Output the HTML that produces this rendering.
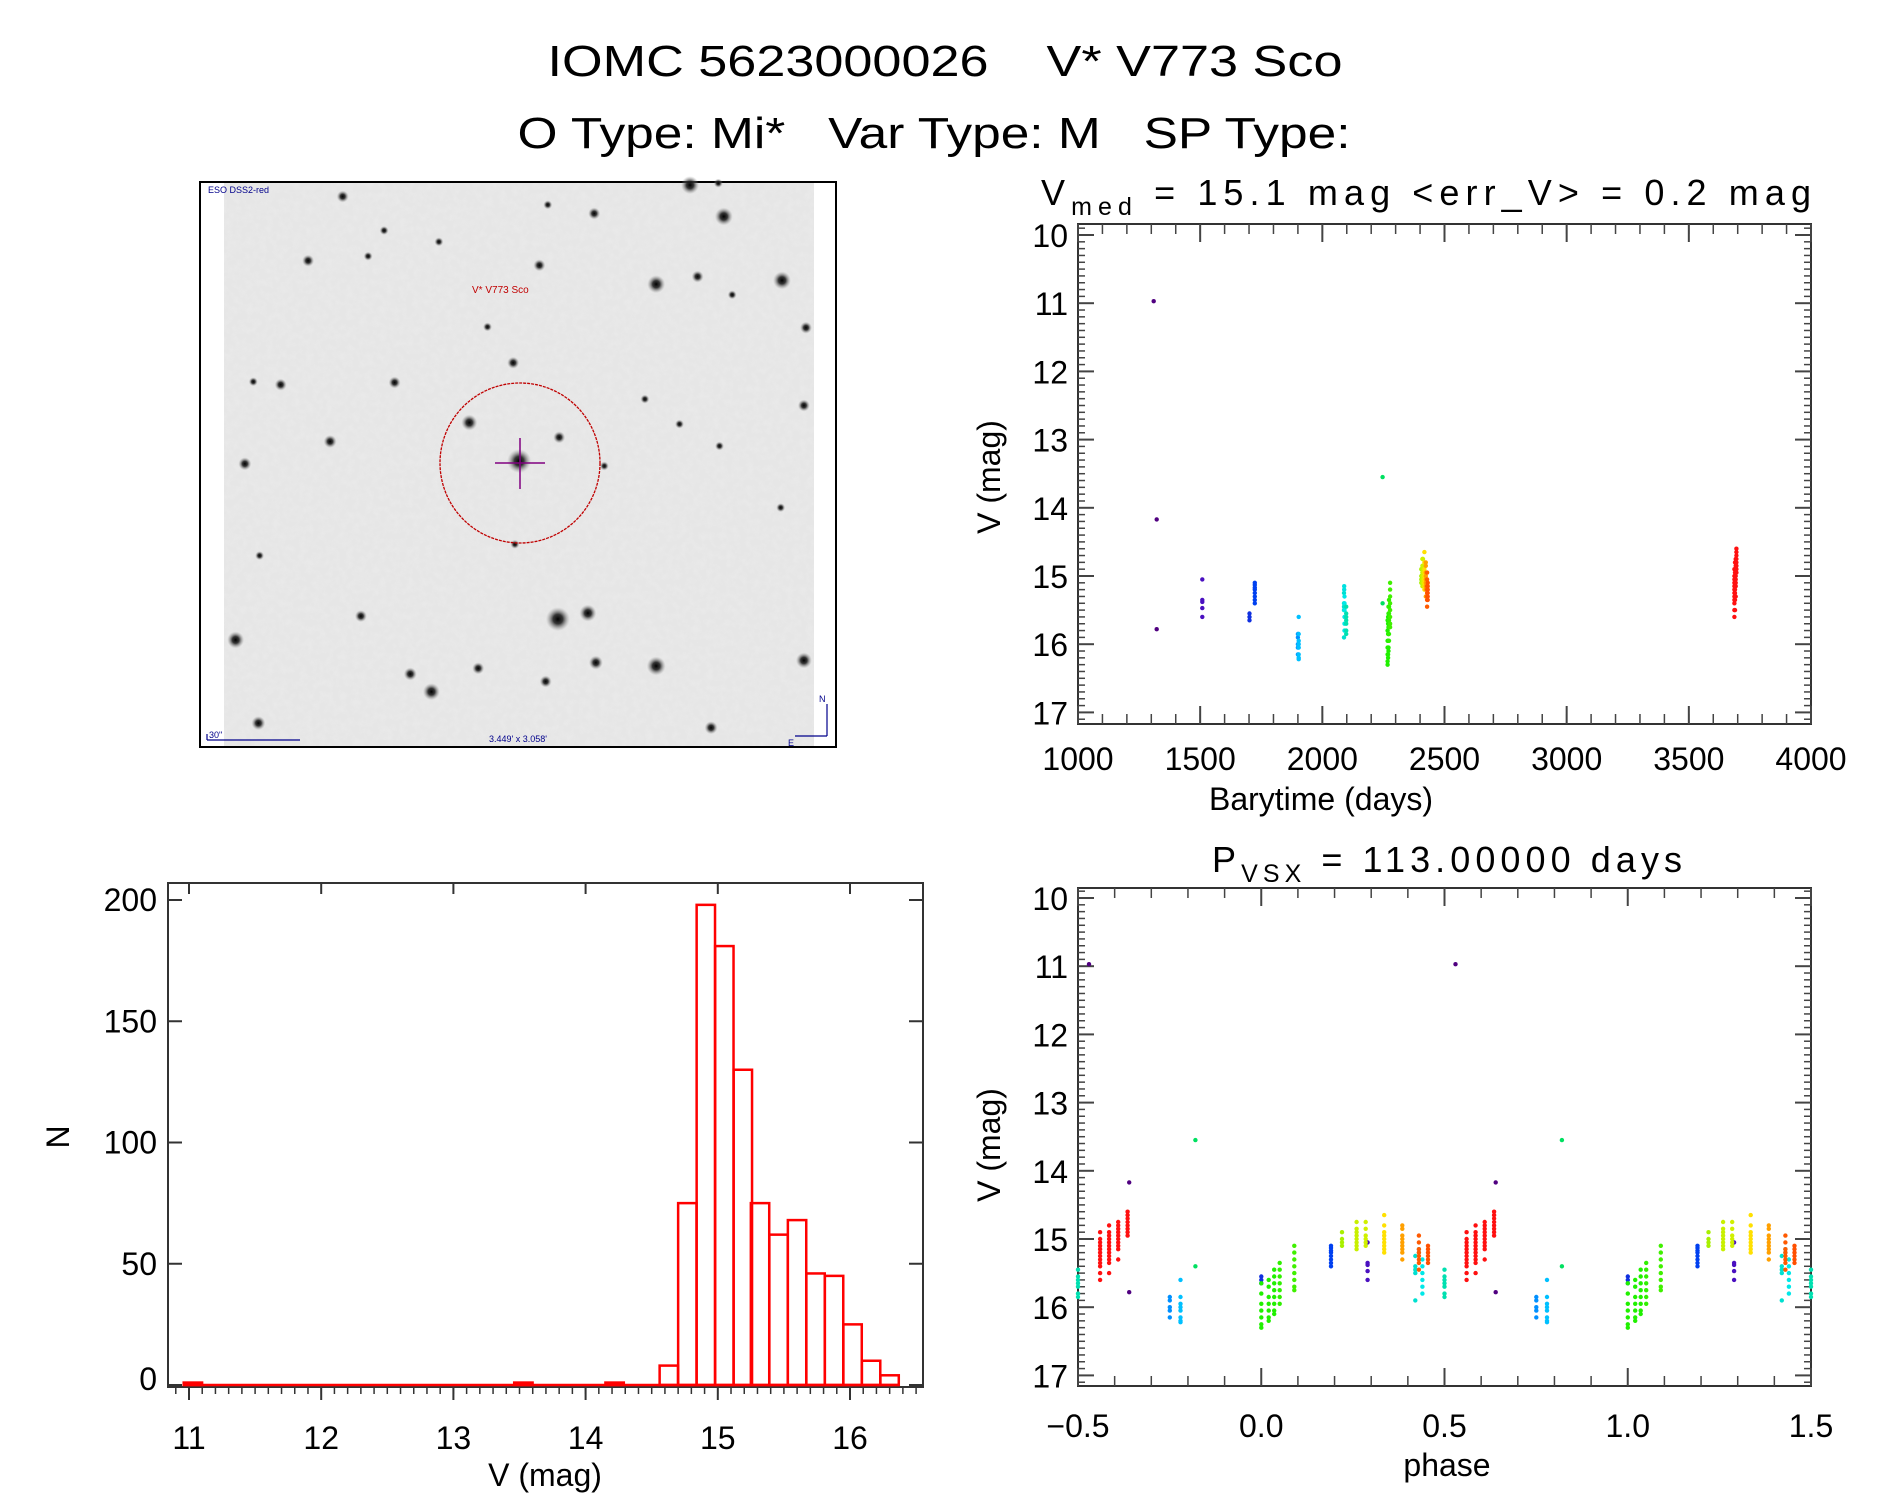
<!DOCTYPE html>
<html><head><meta charset="utf-8"><title>IOMC 5623000026 V* V773 Sco</title>
<style>
html,body{margin:0;padding:0;background:#fff;}
svg{display:block;font-family:"Liberation Sans",sans-serif;}
text{fill:#000;white-space:pre;}
</style></head>
<body>
<svg id="fig" width="1889" height="1494" viewBox="0 0 1889 1494" xmlns="http://www.w3.org/2000/svg">
<defs>
<filter id="noise" x="0" y="0" width="100%" height="100%">
<feTurbulence type="fractalNoise" baseFrequency="0.15" numOctaves="2" seed="3"/>
<feColorMatrix type="matrix" values="0 0 0 0 0.82  0 0 0 0 0.82  0 0 0 0 0.82  0 0 0 -2.2 1.45"/>
</filter>
<radialGradient id="star"><stop offset="0" stop-color="#000"/><stop offset="0.4" stop-color="#222" stop-opacity="0.9"/><stop offset="1" stop-color="#999" stop-opacity="0"/></radialGradient>
</defs>
<text x="945" y="76" font-size="44" text-anchor="middle" textLength="795" lengthAdjust="spacingAndGlyphs">IOMC 5623000026    V* V773 Sco</text>
<text x="934" y="148" font-size="44" text-anchor="middle" textLength="833" lengthAdjust="spacingAndGlyphs">O Type: Mi*   Var Type: M   SP Type:</text>

<g id="image-panel">
<rect x="200" y="182" width="636" height="565" fill="#fff" stroke="#000" stroke-width="2"/>
<rect x="224" y="183" width="590" height="563" fill="#e6e6e6"/>
<rect x="224" y="183" width="590" height="563" fill="#fff" filter="url(#noise)" opacity="0.8"/>
<g id="stars"></g>
<ellipse cx="520" cy="463" rx="80" ry="80" fill="none" stroke="#c00000" stroke-width="1.3" stroke-dasharray="3 1"/>
<line x1="495" y1="463" x2="545" y2="463" stroke="#800080" stroke-width="1.5"/>
<line x1="520" y1="438" x2="520" y2="489" stroke="#800080" stroke-width="1.5"/>
<text x="208" y="193" font-size="9" style="fill:#00008b">ESO DSS2-red</text>
<text x="472" y="293" font-size="10" style="fill:#c00000">V* V773 Sco</text>
<text x="209" y="738" font-size="9" style="fill:#00008b">30"</text>
<line x1="207" y1="740" x2="300" y2="740" stroke="#00008b" stroke-width="1.2"/>
<line x1="207" y1="734" x2="207" y2="740" stroke="#00008b" stroke-width="1.2"/>
<text x="489" y="742" font-size="9" style="fill:#00008b">3.449' x 3.058'</text>
<line x1="827" y1="704" x2="827" y2="736" stroke="#00008b" stroke-width="1.2"/>
<line x1="827" y1="736" x2="795" y2="736" stroke="#00008b" stroke-width="1.2"/>
<text x="819" y="702" font-size="9" style="fill:#00008b">N</text>
<text x="788" y="746" font-size="9" style="fill:#00008b">E</text>
</g>

<g id="hist"></g>
<g id="lc"></g>
<g id="ph"></g>
</svg>
<script>
// ---------- histogram data ----------
const binLefts = [10.96, 13.46, 14.15, 14.56, 14.70, 14.84, 14.98, 15.12, 15.25, 15.39, 15.53, 15.67, 15.81, 15.95, 16.09, 16.23];
const binCounts = [1, 1, 1, 8, 75, 198, 181, 130, 75, 62, 68, 46, 45, 25, 10, 4];
const binWidth = 0.139;
const histXTicks = [11, 12, 13, 14, 15, 16];
const histYTicks = [0, 50, 100, 150, 200];

// ---------- light curve data (time, magnitudes, colour per observation group) ----------
const obsTimes = [1309.9, 1322.3, 1508.8, 1702.0, 1723.5, 1899.8, 1903.1, 2088.5, 2089.6, 2090.7, 2097.5, 2246.7, 2267.0, 2269.3, 2271.0, 2272.7, 2277.2, 2404.9, 2409.4, 2412.2, 2417.9, 2423.5, 2428.6, 2431.4, 3686.3, 3689.1, 3691.9, 3694.8];
const obsMags = [
 [10.97],
 [14.17, 15.78],
 [15.05, 15.35, 15.38, 15.47, 15.6],
 [15.55, 15.6, 15.65],
 [15.1, 15.13, 15.17, 15.2, 15.25, 15.3, 15.35, 15.4],
 [15.85, 15.9, 16.0, 16.05, 16.15],
 [15.6, 15.85, 15.95, 16.0, 16.05, 16.15, 16.2, 16.22],
 [15.25, 15.4, 15.45, 15.5, 15.9],
 [15.15, 15.2],
 [15.3, 15.4, 15.5, 15.6, 15.7, 15.8],
 [15.45, 15.55, 15.6, 15.65, 15.7, 15.8, 15.85],
 [13.55, 15.4],
 [15.65, 15.8, 15.95, 16.05, 16.15, 16.25, 16.3],
 [15.6, 15.7, 15.85, 15.95, 16.05, 16.15, 16.2],
 [15.45, 15.55, 15.65, 15.75, 15.85, 15.95, 16.05, 16.1],
 [15.35, 15.45, 15.55, 15.65, 15.75, 15.85, 15.95],
 [15.1, 15.2, 15.3, 15.4, 15.5, 15.6, 15.7, 15.75],
 [14.9, 15.0, 15.05, 15.1],
 [14.75, 14.85, 14.9, 14.95, 15.0, 15.05, 15.1, 15.15],
 [14.75, 14.85, 14.95, 15.0, 15.05, 15.1],
 [14.65, 14.8, 14.9, 14.95, 15.0, 15.05, 15.1, 15.15, 15.2],
 [14.8, 14.85, 14.95, 15.0, 15.05, 15.1, 15.15, 15.2, 15.3],
 [14.95, 15.05, 15.15, 15.2, 15.25, 15.3, 15.35, 15.45],
 [15.1, 15.15, 15.2, 15.25, 15.3, 15.35],
 [14.9, 15.0, 15.05, 15.1, 15.15, 15.2, 15.25, 15.3, 15.35, 15.4, 15.5, 15.6],
 [14.8, 14.9, 14.95, 15.0, 15.05, 15.1, 15.15, 15.2, 15.25, 15.3, 15.35, 15.5],
 [14.75, 14.8, 14.85, 14.9, 14.95, 15.0, 15.05, 15.1, 15.15, 15.3],
 [14.6, 14.65, 14.7, 14.75, 14.8, 14.85, 14.9, 14.95]
];
const obsColors = ['#500080','#500080','#4a10c0','#1030e0','#0040f0','#0090ff','#00c0ff','#00e0d0','#00e0e0','#00e8e8','#00e0b0','#00e060','#20f000','#20f000','#20f000','#30f000','#40f000','#a8f000','#c8f000','#d0f000','#ffe000','#ffa000','#ff5a00','#ff5000','#ff1010','#ff1010','#ff1010','#ff1010'];
const period = 113.0;
const epoch = 1250.0;
const lcXTicks = [1000, 1500, 2000, 2500, 3000, 3500, 4000];
const magTicks = [10, 11, 12, 13, 14, 15, 16, 17];
const phXTicks = [-0.5, 0.0, 0.5, 1.0, 1.5];
const phXTickLabels = ['\u22120.5', '0.0', '0.5', '1.0', '1.5'];

const NS = 'http://www.w3.org/2000/svg';
function mk(parent, tag, attrs) {
  const e = document.createElementNS(NS, tag);
  for (const k in attrs) e.setAttribute(k, attrs[k]);
  parent.appendChild(e);
  return e;
}
function txt(parent, x, y, s, size, anchor) {
  const t = mk(parent, 'text', {x: x, y: y, 'font-size': size, 'text-anchor': anchor || 'middle'});
  t.textContent = s;
  return t;
}

// ---------- stars in image ----------
const starG = document.getElementById('stars');
const starList = [[362,70,6],[1185,40,9],[1252,35,4.5],[1265,123,9],[958,115,6],[848,92,4.5],[460,160,4.5],[590,190,4.5],[280,240,6],[422,228,4.5],[828,252,6],[1105,302,9],[1203,282,6],[1403,292,9],[1285,330,4.5],[1460,417,6],[705,415,4.5],[766,510,6],[485,562,6],[215,568,6],[150,560,4.5],[1078,606,4.5],[1455,623,6],[662,668,8],[875,707,6],[332,718,6.5],[1160,672,4.5],[130,777,6.5],[780,770,12],[982,783,4.5],[1255,730,4.5],[1400,893,4.5],[405,1180,6],[872,1188,12],[943,1172,8.5],[108,1243,8.5],[962,1303,7],[1105,1312,9.5],[1455,1297,8],[522,1333,6.5],[683,1318,6],[572,1380,8.5],[843,1353,6],[162,1463,7],[1235,1475,6.5],[770,990,4.5],[165,1020,4.5]];
starList.forEach(s => {
  const c = mk(starG, 'circle', {cx: (s[0]/2.37+190).toFixed(1), cy: (s[1]/2.645+170).toFixed(1), r: s[2], fill: 'url(#star)'});
  
  
});

function frame(g, x0, y0, x1, y1, name) {
  const r = mk(g, 'rect', {x: x0, y: y0, width: x1 - x0, height: y1 - y0, fill: 'none', stroke: '#333', 'stroke-width': 2});
  
  
}

// ---------- histogram ----------
(function(){
  const g = document.getElementById('hist');
  const X0 = 168, X1 = 923, Y0 = 883, Y1 = 1387;
  const xs = v => 189 + (v - 11) * 132.2;
  const ys = n => 1385 - n * 2.425;
  frame(g, X0, Y0, X1, Y1, 'histogram-frame');
  for (let v = 10.9; v <= 16.55; v += 0.1) {
    const x = xs(v);
    if (x < X0 || x > X1) continue;
    const l = mk(g, 'line', {x1: x, y1: Y1, x2: x, y2: Y1 + 7, stroke: '#333', 'stroke-width': 1.5});
    
    
  }
  histXTicks.forEach(v => {
    const x = xs(v);
    const l = mk(g, 'line', {x1: x, y1: Y1, x2: x, y2: Y1 + 13, stroke: '#333', 'stroke-width': 2});
    
    
    const l2 = mk(g, 'line', {x1: x, y1: Y0, x2: x, y2: Y0 + 11, stroke: '#333', 'stroke-width': 2});
    
    
    const t = txt(g, x, 1449, String(v), 32);
    
    
  });
  histYTicks.forEach(v => {
    const y = ys(v);
    const l = mk(g, 'line', {x1: X0, y1: y, x2: X0 + 14, y2: y, stroke: '#333', 'stroke-width': 2});
    
    
    const l2 = mk(g, 'line', {x1: X1 - 14, y1: y, x2: X1, y2: y, stroke: '#333', 'stroke-width': 2});
    
    
    const t = txt(g, 157, Math.min(y + 11, 1390), String(v), 32, 'end');
    
    
  });
  const base = mk(g, 'line', {x1: xs(binLefts[0]), y1: ys(0), x2: xs(binLefts[binLefts.length-1] + binWidth), y2: ys(0), stroke: '#ff0000', 'stroke-width': 2.5});
  
  
  binLefts.forEach((b, i) => {
    const x = xs(b), w = binWidth * 132.2, y = ys(binCounts[i]);
    const r = mk(g, 'rect', {x: x, y: y, width: w, height: ys(0) - y, fill: 'none', stroke: '#ff0000', 'stroke-width': 2.5});
    
    
  });
  const xl = txt(g, 545, 1486, 'V (mag)', 32);
  
  
  const yl = txt(g, 0, 0, 'N', 32);
  yl.setAttribute('transform', 'translate(69,1137) rotate(-90)');
  
  
})();

function magPanel(g, Y0, Y1, y10, xs, minorStep, xmin, xmax, xTicks, name) {
  const X0 = 1078, X1 = 1811;
  const ys = m => y10 + (m - 10) * 68.2;
  frame(g, X0, Y0, X1, Y1, name);
  for (let m = 9.8; m <= 17.21; m += 0.1) {
    const y = ys(m);
    if (y < Y0 || y > Y1) continue;
    const maj = Math.abs(m - Math.round(m)) < 0.01;
    const len = maj ? 16 : 7;
    const a = mk(g, 'line', {x1: X0, y1: y, x2: X0 + len, y2: y, stroke: '#444', 'stroke-width': maj ? 2 : 1.5});
    
    
    const b = mk(g, 'line', {x1: X1 - len, y1: y, x2: X1, y2: y, stroke: '#444', 'stroke-width': maj ? 2 : 1.5});
    
    
  }
  magTicks.forEach(m => {
    const t = txt(g, 1068, ys(m) + 12, String(m), 32, 'end');
    
    
  });
  for (let v = xmin; v <= xmax + 1e-9; v += minorStep) {
    const x = xs(v);
    const a = mk(g, 'line', {x1: x, y1: Y1, x2: x, y2: Y1 - 10, stroke: '#444', 'stroke-width': 1.5});
    
    
    const b = mk(g, 'line', {x1: x, y1: Y0, x2: x, y2: Y0 + 10, stroke: '#444', 'stroke-width': 1.5});
    
    
  }
  xTicks.forEach(v => {
    const x = xs(v);
    const a = mk(g, 'line', {x1: x, y1: Y1, x2: x, y2: Y1 - 18, stroke: '#444', 'stroke-width': 2});
    
    
    const b = mk(g, 'line', {x1: x, y1: Y0, x2: x, y2: Y0 + 18, stroke: '#444', 'stroke-width': 2});
    
    
  });
  return ys;
}

// ---------- light curve ----------
(function(){
  const g = document.getElementById('lc');
  const xs = t => 1078 + (t - 1000) * (733 / 3000);
  const ys = magPanel(g, 224, 724, 235, xs, 100, 1000, 4000, lcXTicks, 'light-curve-frame');
  lcXTicks.forEach(v => {
    const t = txt(g, xs(v), 770, String(v), 32);
    
    
  });
  obsTimes.forEach((t, i) => {
    obsMags[i].forEach(m => {
      const c = mk(g, 'circle', {cx: xs(t).toFixed(1), cy: ys(m).toFixed(1), r: 2.2, fill: obsColors[i]});
      
      
    });
  });
  const ti = mk(g, 'text', {x: 1041, y: 205, 'font-size': 36});
  
  
  ti.innerHTML = 'V<tspan font-size="25" dy="10">med</tspan><tspan dy="-10"> = 15.1 mag &lt;err_V&gt; = 0.2 mag</tspan>';
  ti.setAttribute('textLength', '770');
  const xl = txt(g, 1321, 810, 'Barytime (days)', 32);
  
  
  const yl = txt(g, 0, 0, 'V (mag)', 32);
  yl.setAttribute('transform', 'translate(1000,477) rotate(-90)');
  
  
})();

// ---------- phase curve ----------
(function(){
  const g = document.getElementById('ph');
  const xs = p => 1078 + (p + 0.5) * 366.5;
  const ys = magPanel(g, 888, 1386, 898, xs, 0.1, -0.5, 1.5, phXTicks, 'phase-curve-frame');
  phXTicks.forEach((v, i) => {
    const t = txt(g, xs(v), 1437, phXTickLabels[i], 32);
    
    
  });
  obsTimes.forEach((t, i) => {
    let ph = ((t - epoch) / period) % 1;
    if (ph < 0) ph += 1;
    [ph - 1, ph, ph + 1].forEach(p => {
      if (p < -0.5 - 1e-6 || p > 1.5 + 1e-6) return;
      obsMags[i].forEach(m => {
        const c = mk(g, 'circle', {cx: xs(p).toFixed(1), cy: ys(m).toFixed(1), r: 2.2, fill: obsColors[i]});
        
        
      });
    });
  });
  const ti = mk(g, 'text', {x: 1212, y: 872, 'font-size': 36});
  
  
  ti.innerHTML = 'P<tspan font-size="25" dy="10">VSX</tspan><tspan dy="-10"> = 113.00000 days</tspan>';
  ti.setAttribute('textLength', '470');
  const xl = txt(g, 1447, 1476, 'phase', 32);
  
  
  const yl = txt(g, 0, 0, 'V (mag)', 32);
  yl.setAttribute('transform', 'translate(1000,1145) rotate(-90)');
  
  
})();
</script>
</body></html>
